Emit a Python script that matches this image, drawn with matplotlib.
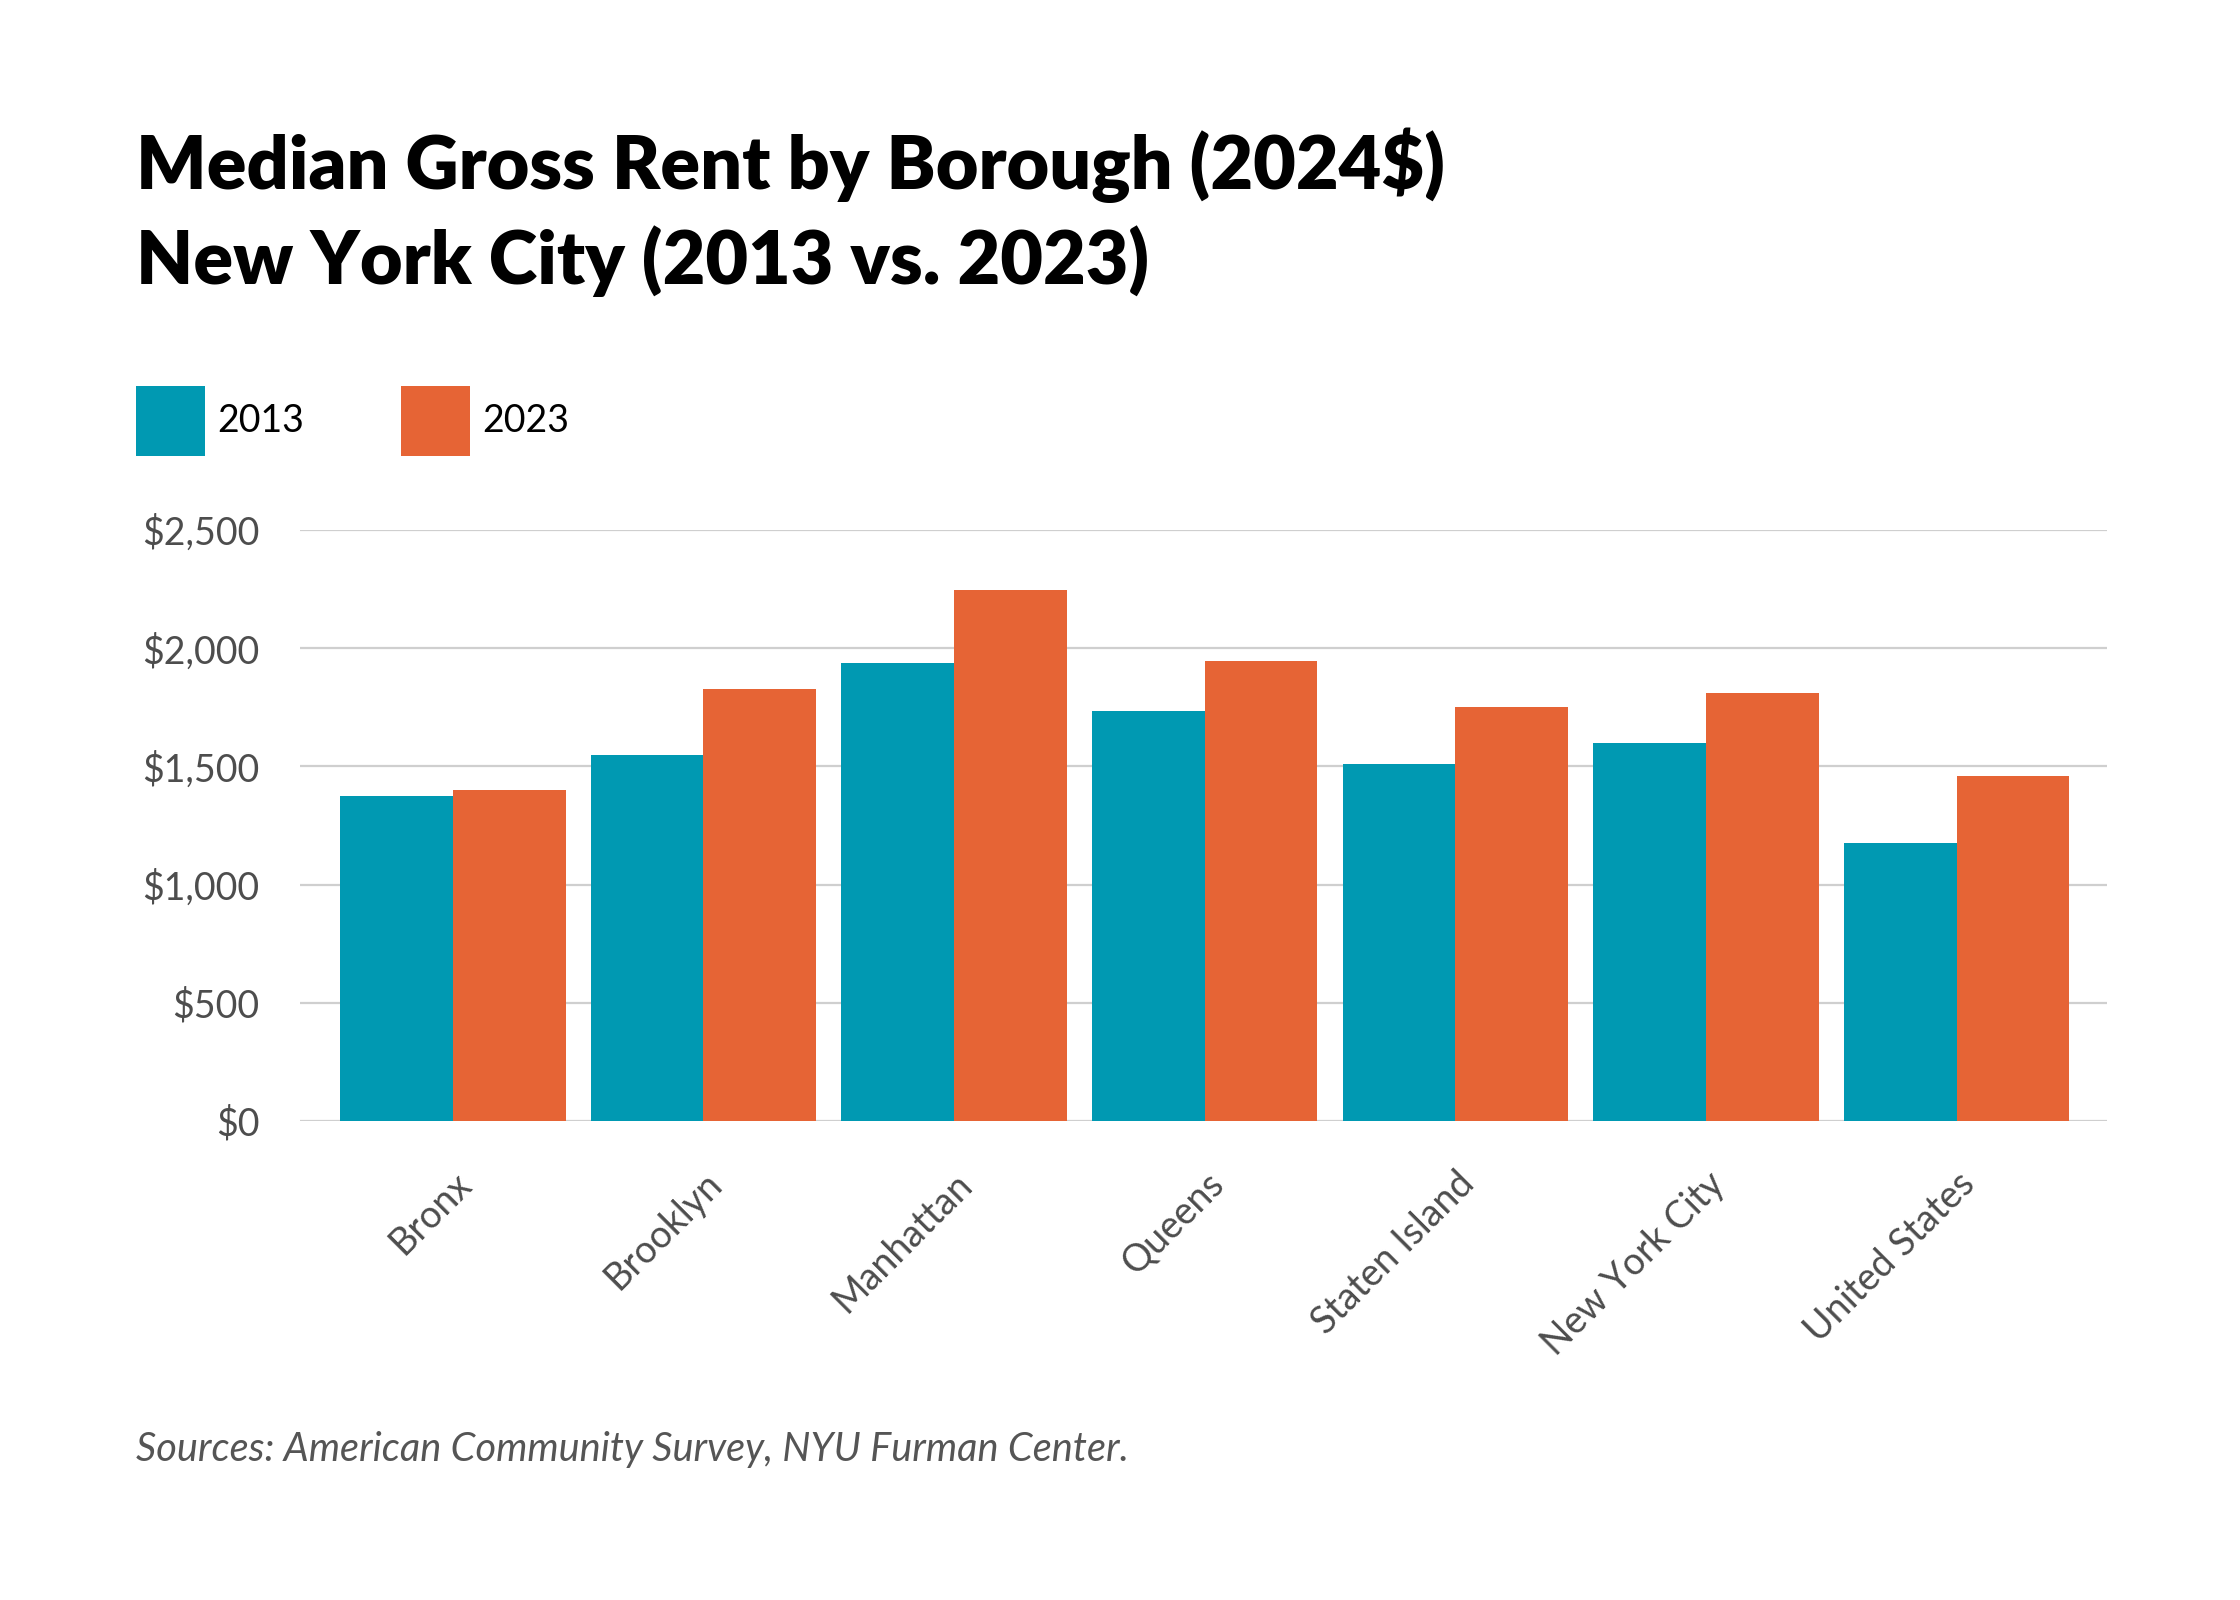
import numpy as np
import matplotlib
matplotlib.use("Agg")
import matplotlib.pyplot as plt
from matplotlib.ticker import FuncFormatter

# values (2024 dollars)
boroughs = ["Bronx", "Brooklyn", "Manhattan", "Queens", "Staten Island",
            "New York City", "United States"]
rent_2013 = [1373, 1548, 1937, 1733, 1509, 1597, 1175]
rent_2023 = [1402, 1827, 2246, 1945, 1750, 1810, 1458]
years = ["2013", "2023"]

teal = "#0099b2"
orange = "#e66435"
grey_txt = "#4d4d4d"

plt.rcParams["font.family"] = ["Lato", "DejaVu Sans"]

fig = plt.figure(figsize=(11.2, 8), dpi=200)
ax = fig.add_axes([0.1339, 0.2994, 0.8067, 0.3694])

x = np.arange(len(boroughs))
w = 0.45
ax.bar(x - w / 2, rent_2013, w, color=teal, label=years[0], zorder=2)
ax.bar(x + w / 2, rent_2023, w, color=orange, label=years[1], zorder=2)

ax.set_xlim(-0.61, 6.6)
ax.set_ylim(0, 2500)
ax.set_yticks(np.arange(0, 2501, 500))
ax.yaxis.set_major_formatter(FuncFormatter(lambda v, p: f"${v:,.0f}"))
ax.grid(axis="y", color="#cfcfcf", linewidth=0.8, zorder=0)
ax.set_axisbelow(True)
for s in ax.spines.values():
    s.set_visible(False)
ax.tick_params(axis="y", length=0, pad=14.5, labelsize=13.5, labelcolor=grey_txt)
ax.tick_params(axis="x", length=0, pad=16, labelsize=13.5, labelcolor=grey_txt)
ax.set_xticks(x)
ax.set_xticklabels(boroughs, rotation=45, ha="right", rotation_mode="anchor")

# titles
fig.text(0.0607, 0.8819, "Median Gross Rent by Borough (2024$)", fontsize=26.5,
         fontweight="heavy", color="black", va="baseline")
fig.text(0.0607, 0.8225, "New York City (2013 vs. 2023)", fontsize=26.5,
         fontweight="heavy", color="black", va="baseline")

# legend
fig.legend(loc="upper left", bbox_to_anchor=(0.0607, 0.759), frameon=False,
           ncol=2, fontsize=13.5, handlelength=1.83, handleheight=2.5,
           handletextpad=0.33, columnspacing=2.6, borderpad=0, borderaxespad=0)

fig.text(0.0607, 1 - 1461 / 1600, "Sources: American Community Survey, NYU Furman Center.",
         fontsize=14.3, style="italic", color="#555555", va="baseline")

fig.savefig("out.png", dpi=200, facecolor="white")
